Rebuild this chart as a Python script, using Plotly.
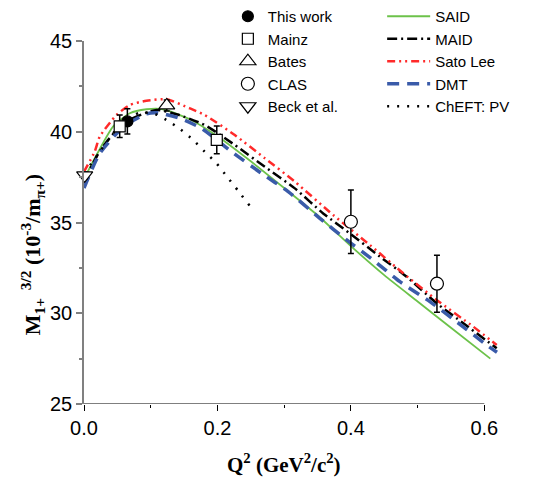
import plotly.graph_objects as go

# ---------------- data ----------------
this_q = [0.065]
this_m = [40.57]
this_err = [0.7]

mainz_q = [0.0535, 0.199]
mainz_m = [40.30, 39.55]
mainz_err = [0.62, 0.76]

bates_q = [0.124]
bates_m = [41.45]
bates_err = [0.3]

clas_q = [0.40, 0.529]
clas_m = [35.04, 31.63]
clas_err = [1.75, 1.57]

beck_q = [0.001]
beck_m = [37.6]
beck_err = [0.2]

said_q = [0.0, 0.02, 0.0435, 0.0686, 0.0936, 0.1185, 0.1585, 0.2, 0.25, 0.3, 0.35, 0.4, 0.45, 0.5, 0.55, 0.609]
said_m = [37.4, 38.8, 40.28, 41.02, 41.24, 41.24, 40.69, 39.75, 38.37, 36.9, 35.4, 33.7, 32.1, 30.65, 29.2, 27.5]

maid_q = [0.0, 0.025, 0.06, 0.1086, 0.14, 0.181, 0.226, 0.271, 0.316, 0.3585, 0.3985, 0.4435, 0.4836, 0.5286, 0.5685, 0.6186]
maid_m = [37.3, 39.0, 40.5, 41.2, 40.95, 40.37, 39.27, 38.07, 36.88, 35.5, 34.4, 33.12, 32.01, 30.55, 29.45, 28.07]

sato_q = [0.0, 0.016, 0.0236, 0.0486, 0.0686, 0.0936, 0.1236, 0.1586, 0.181, 0.226, 0.271, 0.316, 0.3735, 0.4285, 0.4785, 0.5286, 0.5835, 0.6186]
sato_m = [37.8, 38.9, 39.73, 40.92, 41.47, 41.71, 41.79, 41.29, 40.92, 39.82, 38.54, 37.25, 35.41, 33.76, 32.2, 30.73, 29.26, 28.25]

dmt_q = [0.0, 0.0237, 0.06, 0.0936, 0.1086, 0.1435, 0.176, 0.221, 0.266, 0.306, 0.3535, 0.3936, 0.4335, 0.4735, 0.5185, 0.5586, 0.6036, 0.619]
dmt_m = [36.9, 38.81, 40.3, 40.98, 41.05, 40.74, 40.19, 38.9, 37.71, 36.7, 35.23, 34.04, 32.93, 31.74, 30.64, 29.53, 28.25, 27.85]

cheft_q = [0.0, 0.02, 0.036, 0.06, 0.0836, 0.105, 0.1236, 0.1446, 0.1635, 0.181, 0.1986, 0.2145, 0.231, 0.249, 0.255]
cheft_m = [37.7, 38.7, 39.55, 40.6, 41.05, 41.0, 40.65, 40.13, 39.55, 38.9, 38.26, 37.52, 36.75, 35.9, 35.7]

x_ticks = [0.0, 0.2, 0.4, 0.6]
x_minor = [0.1, 0.3, 0.5]
y_ticks = [25, 30, 35, 40, 45]

# ---------------- figure ----------------
W, H = 525, 470  # page body adds an 8 px margin
fig = go.Figure()

def add_line(q, m, name, color, width, dash):
    fig.add_trace(go.Scatter(x=q, y=m, mode="lines", name=name,
                             line=dict(color=color, width=width, dash=dash, shape="spline", smoothing=0.6),
                             legend="legend2"))

add_line(said_q, said_m, "SAID", "#6CC24A", 1.8, "solid")
add_line(maid_q, maid_m, "MAID", "black", 2.5, "10px,4px,2px,4px")
add_line(sato_q, sato_m, "Sato Lee", "#FF2A2A", 2.5, "8px,4px,2px,4px,2px,4px")
add_line(dmt_q, dmt_m, "DMT", "#3A5BA9", 3.5, "12px,8px")
add_line(cheft_q, cheft_m, "ChEFT: PV", "black", 2.5, "2px,8px")

def add_pts(q, m, err, name, symbol, size, fill):
    fig.add_trace(go.Scatter(x=q, y=m, mode="markers", name=name, cliponaxis=False,
                             marker=dict(symbol=symbol, size=size, color=fill,
                                         line=dict(color="black", width=1.2)),
                             error_y=dict(type="data", array=err, color="black", thickness=1.5, width=3),
                             legend="legend"))

add_pts(this_q, this_m, this_err, "This work", "circle", 11, "black")
add_pts(mainz_q, mainz_m, mainz_err, "Mainz", "square", 11, "white")
add_pts(bates_q, bates_m, bates_err, "Bates", "triangle-up", 14, "white")
add_pts(clas_q, clas_m, clas_err, "CLAS", "circle", 13, "white")
add_pts(beck_q, beck_m, beck_err, "Beck et al.", "triangle-down", 14, "white")

# x-axis baseline from 0 to the last tick
fig.add_shape(type="line", xref="x", yref="y", x0=x_ticks[0], x1=x_ticks[-1], y0=y_ticks[0], y1=y_ticks[0],
              line=dict(color="black", width=1.2), layer="above")

tick_font = dict(family="Liberation Sans, Arial", size=20, color="black")
fig.update_xaxes(range=[0, 0.625], tickvals=x_ticks, ticktext=[f"{v:.1f}" for v in x_ticks],
                 showline=False, showgrid=False, zeroline=False,
                 ticks="outside", ticklen=6, tickwidth=1.2, tickcolor="black",
                 minor=dict(tickvals=x_minor, ticks="outside", ticklen=3, tickwidth=1.2, tickcolor="black"),
                 tickfont=tick_font)
fig.update_yaxes(range=[25, 45], tickvals=y_ticks, showline=True, linecolor="#808080", linewidth=1.5,
                 showgrid=False, zeroline=False,
                 ticks="outside", ticklen=6, tickwidth=1.5, tickcolor="#808080",
                 minor=dict(dtick=2.5, ticks="outside", ticklen=3, tickwidth=1.5, tickcolor="#808080"),
                 tickfont=tick_font)

fig.add_annotation(text="<b>Q<sup>2</sup> (GeV<sup>2</sup>/c<sup>2</sup>)</b>", xref="paper", yref="paper",
                   x=0.48, y=0, yshift=-59, showarrow=False,
                   font=dict(family="Liberation Serif, Times New Roman", size=21, color="black"),
                   yanchor="middle")
fig.add_annotation(text="<b>M<sub>1+</sub><sup>  3/2</sup> (10<sup>-3</sup>/m<sub>π+</sub>)</b>", xref="paper", yref="paper",
                   x=0, xshift=-52, y=0.41, textangle=-90, showarrow=False,
                   font=dict(family="Liberation Serif, Times New Roman", size=22, color="black"),
                   xanchor="center", yanchor="middle")

legend_font = dict(family="Liberation Sans, Arial", size=15, color="black")
fig.update_layout(
    width=W, height=H,
    margin=dict(l=76, r=32, t=33, b=74, autoexpand=False),
    plot_bgcolor="white", paper_bgcolor="white",
    legend=dict(xref="paper", yref="paper", x=0.345, y=1.113,
                xanchor="left", yanchor="top", font=legend_font,
                bgcolor="rgba(0,0,0,0)", itemwidth=30, tracegroupgap=0),
    legend2=dict(xref="paper", yref="paper", x=0.715, y=1.113,
                 xanchor="left", yanchor="top", font=legend_font,
                 bgcolor="rgba(0,0,0,0)", itemwidth=43, tracegroupgap=0),
)

fig.write_html("out.html")
